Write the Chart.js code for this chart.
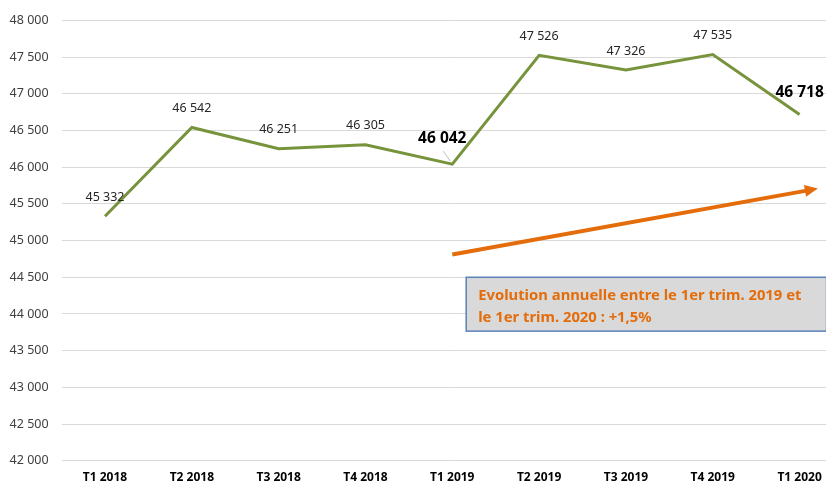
<!DOCTYPE html>
<html>
<head>
<meta charset="utf-8">
<script src="https://cdn.jsdelivr.net/npm/chart.js@4/dist/chart.umd.min.js"></script>
<style>
  html, body { margin: 0; padding: 0; background: #fff; overflow: hidden; }
  #wrap { width: 846px; height: 484px; }
</style>
</head>
<body>
<div id="wrap"><canvas id="chart"></canvas></div>
<script>
const quarters = ['T1 2018', 'T2 2018', 'T3 2018', 'T4 2018', 'T1 2019', 'T2 2019', 'T3 2019', 'T4 2019', 'T1 2020'];
const employees = [45332, 46542, 46251, 46305, 46042, 47526, 47326, 47535, 46718];
const yTicks = [42000, 42500, 43000, 43500, 44000, 44500, 45000, 45500, 46000, 46500, 47000, 47500, 48000];
// trend arrow, start and end (category index, value)
const trendStart = [4, 44810];
const trendEnd = [8.21, 45709];
const noteText = ['Evolution annuelle entre le 1er trim. 2019 et', 'le 1er trim. 2020 : +1,5%'];

const FONT = "'Noto Sans', sans-serif";
const fmt = (v) => String(v).replace(/\B(?=(\d{3})+(?!\d))/g, ' ');

// highlighted labels (bold, moved)
const bigLabels = { 4: { dx: -10, dy: -26, leader: true }, 8: { dx: 0, dy: -22 } };

const labelsPlugin = {
  id: 'pointLabels',
  afterDatasetsDraw(chart) {
    const ctx = chart.ctx;
    const meta = chart.getDatasetMeta(0);
    ctx.save();
    ctx.textAlign = 'center';
    ctx.textBaseline = 'middle';
    meta.data.forEach((pt, i) => {
      const big = bigLabels[i];
      if (big) {
        ctx.font = 'bold 15.5px ' + FONT;
        ctx.fillStyle = '#000';
        ctx.fillText(fmt(employees[i]), pt.x + big.dx, pt.y + big.dy);
        if (big.leader) {
          ctx.strokeStyle = '#bfbfbf';
          ctx.lineWidth = 1;
          ctx.beginPath();
          ctx.moveTo(pt.x - 9, pt.y - 13);
          ctx.lineTo(pt.x - 2, pt.y - 3);
          ctx.stroke();
        }
      } else {
        ctx.font = '12.5px ' + FONT;
        ctx.fillStyle = '#262626';
        ctx.fillText(fmt(employees[i]), pt.x, pt.y - 19);
      }
    });
    ctx.restore();
  }
};

const notePlugin = {
  id: 'trendNote',
  afterDatasetsDraw(chart) {
    const ctx = chart.ctx;
    const x = chart.scales.x, y = chart.scales.y;
    const x1 = x.getPixelForValue(trendStart[0]), y1 = y.getPixelForValue(trendStart[1]);
    const x2 = x.getPixelForValue(trendEnd[0]), y2 = y.getPixelForValue(trendEnd[1]);
    const ang = Math.atan2(y2 - y1, x2 - x1);
    ctx.save();
    ctx.strokeStyle = '#E46C0A';
    ctx.fillStyle = '#E46C0A';
    ctx.lineWidth = 4;
    ctx.beginPath();
    ctx.moveTo(x1, y1);
    ctx.lineTo(x2 - 10 * Math.cos(ang), y2 - 10 * Math.sin(ang));
    ctx.stroke();
    ctx.beginPath();
    ctx.moveTo(x2, y2);
    ctx.lineTo(x2 - 13 * Math.cos(ang) + 6 * Math.sin(ang), y2 - 13 * Math.sin(ang) - 6 * Math.cos(ang));
    ctx.lineTo(x2 - 13 * Math.cos(ang) - 6 * Math.sin(ang), y2 - 13 * Math.sin(ang) + 6 * Math.cos(ang));
    ctx.closePath();
    ctx.fill();

    // text box
    const bx1 = x.getPixelForValue(4.16), bx2 = x.getPixelForValue(8.31);
    const by1 = y.getPixelForValue(44500), by2 = y.getPixelForValue(43766);
    ctx.fillStyle = '#D9D9D9';
    ctx.fillRect(bx1, by1, bx2 - bx1, by2 - by1);
    ctx.strokeStyle = '#5B80B8';
    ctx.lineWidth = 1.5;
    ctx.strokeRect(bx1, by1, bx2 - bx1, by2 - by1);
    ctx.fillStyle = '#E46C0A';
    ctx.font = 'bold 14.8px ' + FONT;
    ctx.textAlign = 'left';
    ctx.textBaseline = 'middle';
    ctx.fillText(noteText[0], bx1 + 12, by1 + 19);
    ctx.fillText(noteText[1], bx1 + 12, by1 + 41);
    ctx.restore();
  }
};

new Chart(document.getElementById('chart'), {
  type: 'line',
  data: {
    labels: quarters,
    datasets: [{
      data: employees,
      borderColor: '#77933C',
      borderWidth: 3,
      pointRadius: 0,
      tension: 0,
      fill: false
    }]
  },
  options: {
    responsive: true,
    maintainAspectRatio: false,
    animation: false,
    layout: { padding: { top: 20, right: 3, left: 0, bottom: 0 } },
    plugins: { legend: { display: false }, tooltip: { enabled: false } },
    scales: {
      x: {
        offset: true,
        grid: { display: false, drawTicks: false },
        border: { display: false },
        ticks: { color: '#000', font: { family: FONT, size: 12, weight: 'bold' }, padding: 10, maxRotation: 0 },
        afterFit: (s) => { s.height = 23.3; }
      },
      y: {
        min: 42000,
        max: 48000,
        afterBuildTicks: (s) => { s.ticks = yTicks.map((v) => ({ value: v })); },
        grid: { color: '#D9D9D9', lineWidth: 1, drawTicks: false },
        border: { display: false },
        ticks: { color: '#404040', font: { family: FONT, size: 12.5 }, padding: 13, callback: (v) => fmt(v) },
        afterFit: (s) => { s.width = 61.6; }
      }
    }
  },
  plugins: [notePlugin, labelsPlugin]
});
</script>
</body>
</html>
